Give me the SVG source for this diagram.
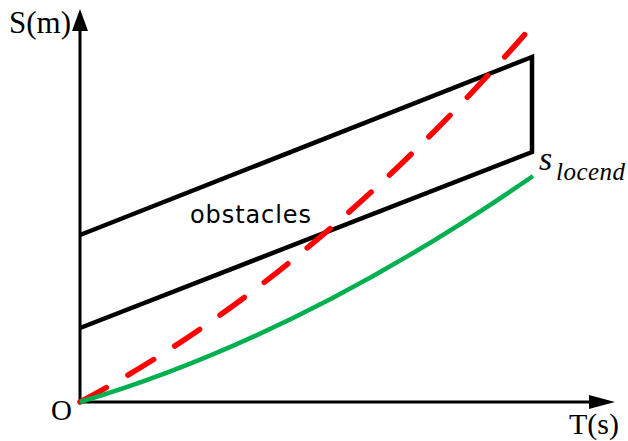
<svg xmlns="http://www.w3.org/2000/svg" width="628" height="441" viewBox="0 0 628 441">
<style>
.serif{font-family:"Liberation Serif","Times New Roman",serif;fill:#000}
.ax{stroke:#000;stroke-width:3;fill:none}
.obs{stroke:#000;stroke-width:4.5;fill:none;stroke-linejoin:miter}
</style>
<rect width="628" height="441" fill="#fff"/>
<g id="axes">
<line class="ax" x1="80" y1="402" x2="80" y2="28"/>
<polygon points="80,9 72,31 88,31" fill="#000"/>
<line class="ax" x1="80" y1="402" x2="592" y2="402"/>
<polygon points="615,402 589,395 589,409" fill="#000"/>
<text class="serif" x="9" y="33" font-size="31">S(m)</text>
<text class="serif" x="569" y="434" font-size="30">T(s)</text>
<text class="serif" x="51" y="420" font-size="29">O</text>
</g>
<g id="obstacles">
<polyline class="obs" points="80,328 532,152 532,57 80,235"/>
<text x="190" y="223" font-family="DejaVu Sans,sans-serif" font-size="24" textLength="121" fill="#000">obstacles</text>
</g>
<g id="connectors">
<path d="M80,402 Q312,279 533,25" stroke="#ff0000" stroke-width="5.5" stroke-linecap="round" fill="none" stroke-dasharray="30,25"/>
<path d="M80,402 Q300,337 533,176" stroke="#00b050" stroke-width="4.5" fill="none"/>
</g>
<g id="slocend">
<text class="serif" x="539" y="170" font-size="34" font-style="italic">s</text>
<text class="serif" x="556" y="180" font-size="25" font-style="italic" textLength="69">locend</text>
</g>
</svg>
